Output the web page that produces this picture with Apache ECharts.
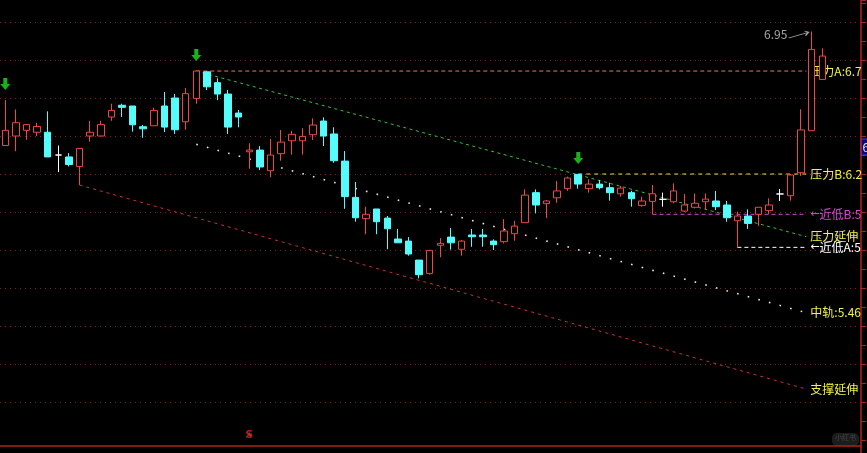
<!DOCTYPE html>
<html><head><meta charset="utf-8">
<script src="https://cdn.jsdelivr.net/npm/echarts@6/dist/echarts.min.js"></script>
<style>html,body{margin:0;padding:0;background:#000;}#c{width:867px;height:453px;}</style>
</head><body><div id="c"></div>
<script>
// ---- candle values ----
const opens  = [6.35,6.40,6.43,6.42,6.42,6.30,6.29,6.24,6.40,6.40,6.50,6.562,6.558,6.449,6.454,6.558,6.60,6.475,6.598,6.738,
                6.681,6.621,6.521,6.317,6.326,6.217,6.307,6.375,6.375,6.407,6.479,6.411,6.268,6.077,5.965,6.016,5.968,5.858,5.847,5.747,
                5.677,5.825,5.868,5.804,5.879,5.879,5.847,5.844,5.886,5.944,6.102,6.044,6.075,6.123,6.198,6.123,6.147,6.128,6.096,6.102,
                6.035,6.056,6.067,6.054,6.005,6.025,6.054,6.058,6.037,5.954,5.979,5.988,6.007,6.095,6.086,6.207,6.428,6.698];
const closes = [6.43,6.47,6.46,6.45,6.29,6.30,6.25,6.335,6.42,6.46,6.535,6.551,6.459,6.438,6.535,6.447,6.433,6.623,6.742,6.659,
                6.621,6.447,6.50,6.326,6.237,6.30,6.368,6.409,6.398,6.458,6.40,6.27,6.081,5.97,5.988,5.949,5.912,5.838,5.779,5.67,
                5.798,5.835,5.838,5.847,5.87,5.87,5.828,5.90,5.926,6.089,6.037,6.058,6.111,6.179,6.147,6.147,6.128,6.102,6.126,6.07,
                6.058,6.096,6.067,6.111,6.037,6.046,6.068,6.028,5.97,5.979,5.94,6.025,6.037,6.095,6.195,6.432,6.856,6.821];
const lows   = [6.35,6.32,6.38,6.40,6.29,6.21,6.24,6.142,6.37,6.40,6.48,6.50,6.423,6.391,6.454,6.421,6.411,6.433,6.57,6.642,
                6.589,6.411,6.446,6.228,6.221,6.183,6.27,6.302,6.302,6.379,6.347,6.259,6.017,5.949,5.883,5.883,5.804,5.838,5.77,5.651,
                5.67,5.762,5.802,5.77,5.817,5.817,5.80,5.835,5.849,5.944,5.993,5.968,6.049,6.112,6.123,6.102,6.119,6.06,6.081,6.028,
                6.028,5.988,6.028,6.046,6.00,6.019,6.014,6.01,5.949,5.814,5.911,5.926,5.989,6.058,6.06,6.19,6.428,6.695];
const highs  = [6.59,6.54,6.463,6.47,6.53,6.35,6.31,6.335,6.48,6.48,6.57,6.57,6.558,6.458,6.549,6.632,6.621,6.653,6.742,6.74,
                6.704,6.642,6.537,6.362,6.347,6.384,6.432,6.428,6.441,6.493,6.498,6.446,6.321,6.158,6.028,6.016,5.979,5.911,5.868,5.747,
                5.798,5.863,5.916,5.853,5.911,5.911,5.856,5.963,5.953,6.119,6.119,6.063,6.163,6.186,6.20,6.172,6.168,6.154,6.137,6.112,
                6.081,6.142,6.102,6.151,6.095,6.098,6.098,6.111,6.058,6.002,6.014,6.025,6.072,6.121,6.20,6.541,6.95,6.862];

// ---- signals ----
const buyArrowIdx = [0, 18, 54];
const sellSignalIdx = [23];
const peakIdx = 76;
const peakText = '6.95';

// ---- overlay lines: [candle position, price] ----
const pressALine   = [[18, 6.742], [75.5, 6.742]];
const pressBLine   = [[54, 6.20], [75.5, 6.20]];
const lowBLine     = [[61, 5.988], [75.5, 5.988]];
const lowALine     = [[69, 5.814], [75.5, 5.814]];
const pressExtLine = [[18, 6.742], [75.5, 5.87]];
const suppExtLine  = [[7, 6.142], [75.5, 5.068]];
const midLine      = [[18, 6.356], [75.5, 5.47]];

// ---- texts ----
const txtPressA = '压力A:6.7';
const txtPressB = '压力B:6.2';
const txtLowB = '{a|←}近低B:5';
const txtLowA = '{a|←}近低A:5';
const txtPressExt = '压力延伸';
const txtSuppExt = '支撑延伸';
const txtMid = '中轨:5.46';

// ---- axis ----
const yMin = 4.8, yMax = 7.116, yStep = 0.2;
const xMin = -0.5, xMax = 80.65;

const candleData = opens.map((o, i) => [i, o, closes[i], lows[i], highs[i]]);
const FONT = 'Noto Sans CJK SC';
const YEL = '#f2f24a';
const AXIS = '#b3201e';

function levelSeries(data, color, dash, width, text, textColor) {
  return {
    type: 'line', data: data, symbol: 'none', silent: true,
    lineStyle: { color: color, width: width, type: dash },
    endLabel: {
      show: true, formatter: text, color: textColor, fontSize: 12, fontFamily: FONT, distance: 4,
      rich: { a: { fontFamily: 'DejaVu Sans', fontSize: 11, color: textColor } }
    },
    z: 3
  };
}

const chart = echarts.init(document.getElementById('c'), null, { renderer: 'canvas' });
chart.setOption({
  backgroundColor: '#000',
  animation: false,
  grid: { left: 0, right: 6, top: 0, bottom: 13 },
  xAxis: {
    type: 'value', min: xMin, max: xMax, offset: 6,
    axisLine: { show: true, onZero: false, lineStyle: { color: AXIS, width: 1.5 } },
    axisTick: { show: false }, axisLabel: { show: false }, splitLine: { show: false }
  },
  yAxis: {
    type: 'value', position: 'right', min: yMin, max: yMax, interval: yStep, scale: true,
    axisLine: { show: true, onZero: false, lineStyle: { color: AXIS, width: 1.5 } },
    axisTick: { show: true, inside: false, length: 5, lineStyle: { color: AXIS } },
    minorTick: { show: true, splitNumber: 2, length: 5, lineStyle: { color: AXIS } },
    axisLabel: { show: false },
    splitLine: { show: true, showMinLine: false, showMaxLine: false, lineStyle: { color: '#7a2424', type: [1, 4], width: 1 } }
  },
  series: [
    {
      type: 'candlestick', data: candleData, encode: { x: 0, y: [1, 2, 3, 4] },
      barWidth: 7,
      itemStyle: {
        color: '#000000', borderColor: '#f04646',
        color0: '#54fcfc', borderColor0: '#54fcfc',
        borderColorDoji: '#ffffff', borderWidth: 1
      },
      z: 5
    },
    levelSeries(pressALine, '#e8785a', [4, 3], 1, txtPressA, YEL),
    levelSeries(pressBLine, '#e6e64a', [4, 4], 1, txtPressB, YEL),
    levelSeries(lowBLine, '#d646d6', [4, 3], 1, txtLowB, '#d646d6'),
    levelSeries(lowALine, '#ffffff', [4, 3], 1, txtLowA, '#ffffff'),
    levelSeries(pressExtLine, '#38c038', [3, 3.5], 1, txtPressExt, YEL),
    levelSeries(suppExtLine, '#c83232', [3, 4], 1, txtSuppExt, YEL),
    levelSeries(midLine, '#e6e6e6', [1.6, 9.4], 1.6, txtMid, YEL),
    {
      type: 'scatter', silent: true,
      data: buyArrowIdx.map(i => [i, highs[i]]),
      symbol: 'path://M3,0 L7,0 L7,6 L10,6 L5,12 L0,6 L3,6 Z',
      symbolSize: [10, 12], symbolOffset: [0, -16],
      itemStyle: { color: '#1ee01e' }, z: 6
    },
    {
      type: 'scatter', silent: true,
      data: [[peakIdx, highs[peakIdx]]],
      symbol: 'path://M0,6 L19,1 M15,0 L19,1 L16,4',
      symbolSize: [20, 7], symbolOffset: [-13, 3],
      itemStyle: { color: 'none', borderColor: '#cfcfcf', borderWidth: 1 },
      label: { show: true, position: 'left', distance: -3, formatter: peakText, color: '#cfcfcf', fontSize: 12, fontFamily: FONT },
      z: 6
    },
    {
      type: 'scatter', silent: true,
      data: sellSignalIdx.map(i => [i, yMin]),
      symbol: 'triangle', symbolSize: [5, 4], symbolOffset: [0, -6],
      itemStyle: { color: '#e02424' },
      label: { show: true, position: 'inside', offset: [0, 1], formatter: 'S', color: '#e02424', fontSize: 11, fontWeight: 'bold', fontFamily: 'DejaVu Sans' },
      z: 6
    }
  ],
  graphic: [
    { type: 'line', shape: { x1: 861, y1: 440, x2: 861, y2: 453 }, style: { stroke: AXIS, lineWidth: 1.5 } },
    { type: 'rect', shape: { x: 861, y: 139, width: 8, height: 16 }, style: { fill: '#0a0a70', stroke: '#3a3aff', lineWidth: 1 } },
    { type: 'text', x: 862.5, y: 141, style: { text: '6', fill: '#e0e0ff', fontSize: 12, fontFamily: FONT } },
    { type: 'rect', shape: { x: 832, y: 433, width: 27, height: 13, r: 5 }, style: { fill: '#1c1c1c' } },
    { type: 'text', x: 835, y: 434, style: { text: '小红书', fill: '#444', fontSize: 7, fontFamily: FONT } }
  ]
});
</script>
</body></html>
